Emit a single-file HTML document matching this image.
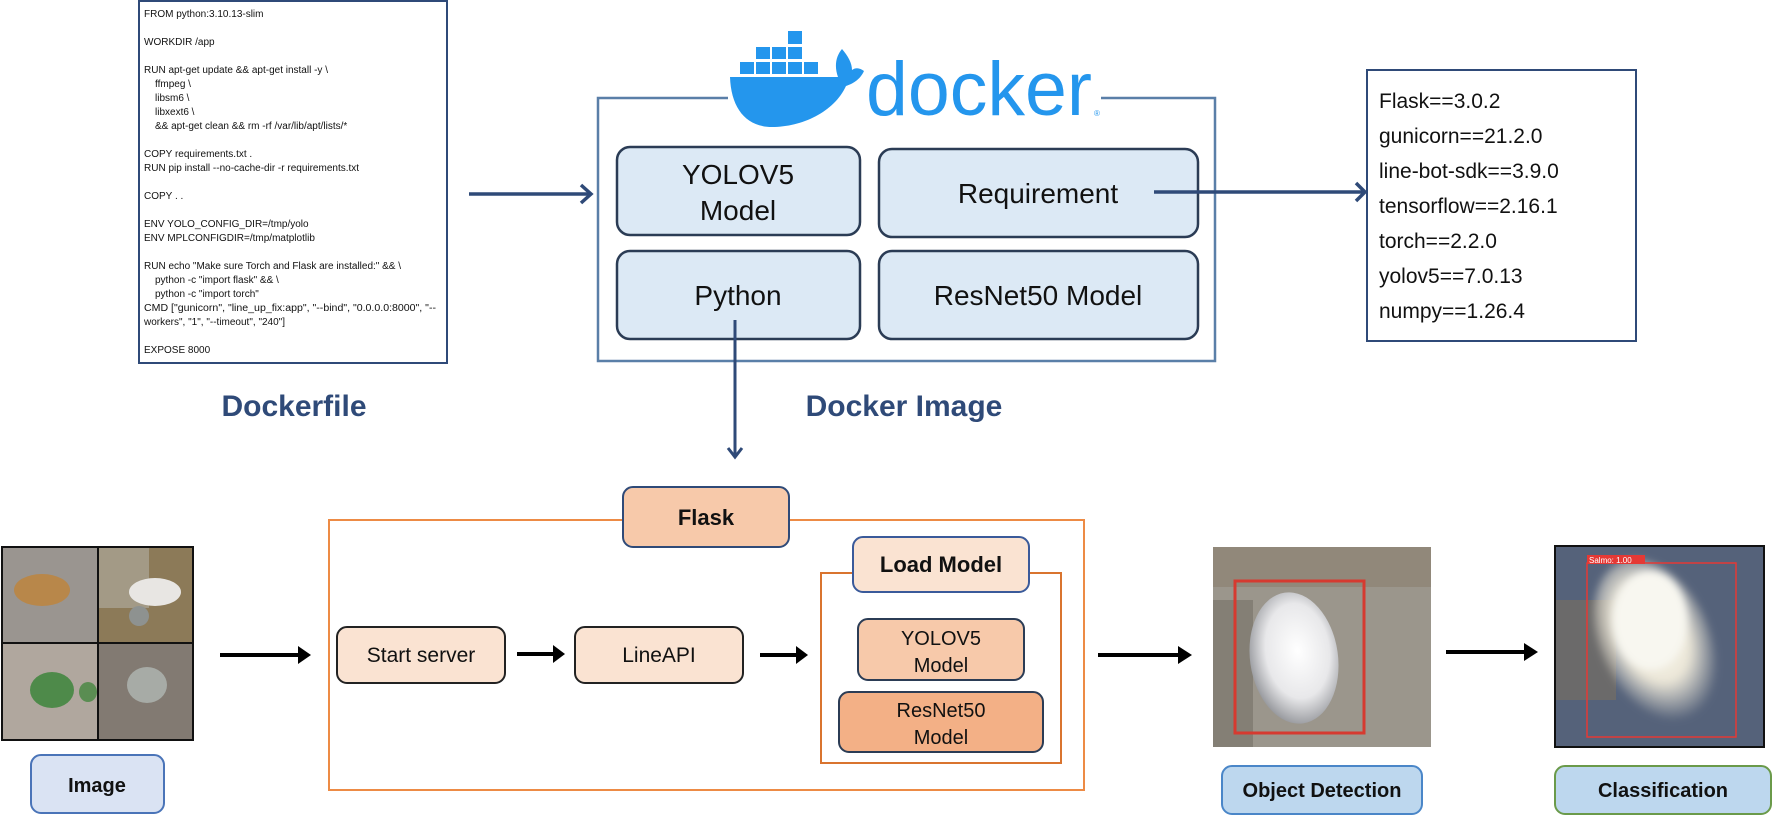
<!DOCTYPE html>
<html><head><meta charset="utf-8"><style>
html,body{margin:0;padding:0;background:#fff;width:1772px;height:817px;overflow:hidden}
svg{display:block}
text{font-family:"Liberation Sans",sans-serif}
</style></head><body>
<svg width="1772" height="817" viewBox="0 0 1772 817" xmlns="http://www.w3.org/2000/svg">
<defs>
<marker id="nav" viewBox="0 0 10 10" refX="8" refY="5" markerWidth="5" markerHeight="5" orient="auto" markerUnits="userSpaceOnUse">
</marker>
<radialGradient id="oval" cx="0.55" cy="0.45" r="0.6"><stop offset="0" stop-color="#ffffff"/><stop offset="0.6" stop-color="#e8e8ea"/><stop offset="1" stop-color="#8d8f94"/></radialGradient>
<radialGradient id="blob" cx="0.5" cy="0.45" r="0.55"><stop offset="0" stop-color="#fbfaf2"/><stop offset="0.55" stop-color="#ece7d8"/><stop offset="1" stop-color="#ece7d8" stop-opacity="0"/></radialGradient>
<filter id="bl"><feGaussianBlur stdDeviation="4"/></filter>
</defs>

<!-- Dockerfile box -->
<rect x="139" y="1" width="308" height="362" fill="#fff" stroke="#2f4a78" stroke-width="2"/>
<g font-size="10" fill="#111">
<text x="144" y="17">FROM python:3.10.13-slim</text>
<text x="144" y="45">WORKDIR /app</text>
<text x="144" y="73">RUN apt-get update &amp;&amp; apt-get install -y \</text>
<text x="155" y="87">ffmpeg \</text>
<text x="155" y="101">libsm6 \</text>
<text x="155" y="115">libxext6 \</text>
<text x="155" y="129">&amp;&amp; apt-get clean &amp;&amp; rm -rf /var/lib/apt/lists/*</text>
<text x="144" y="157">COPY requirements.txt .</text>
<text x="144" y="171">RUN pip install --no-cache-dir -r requirements.txt</text>
<text x="144" y="199">COPY . .</text>
<text x="144" y="227">ENV YOLO_CONFIG_DIR=/tmp/yolo</text>
<text x="144" y="241">ENV MPLCONFIGDIR=/tmp/matplotlib</text>
<text x="144" y="269">RUN echo "Make sure Torch and Flask are installed:" &amp;&amp; \</text>
<text x="155" y="283">python -c "import flask" &amp;&amp; \</text>
<text x="155" y="297">python -c "import torch"</text>
<text x="144" y="311" textLength="292" lengthAdjust="spacingAndGlyphs">CMD ["gunicorn", "line_up_fix:app", "--bind", "0.0.0.0:8000", "--</text>
<text x="144" y="325">workers", "1", "--timeout", "240"]</text>
<text x="144" y="353">EXPOSE 8000</text>
</g>
<text x="294" y="416" font-size="30" font-weight="bold" fill="#2f4a78" text-anchor="middle">Dockerfile</text>
<text x="904" y="416" font-size="30" font-weight="bold" fill="#2f4a78" text-anchor="middle">Docker Image</text>

<!-- arrow dockerfile -> docker -->
<line x1="469" y1="194" x2="590" y2="194" stroke="#2f4a78" stroke-width="3.5"/>
<polyline points="581,185 591,194 581,203" fill="none" stroke="#2f4a78" stroke-width="3.5"/>

<!-- Docker box -->
<polyline points="728,98 598,98 598,361 1215,361 1215,98 1101,98" fill="none" stroke="#5a7fa8" stroke-width="2.5"/>
<!-- whale -->
<g fill="#2496ed">
<rect x="740" y="62" width="14" height="12"/><rect x="756" y="62" width="14" height="12"/><rect x="772" y="62" width="14" height="12"/><rect x="788" y="62" width="14" height="12"/><rect x="804" y="62" width="14" height="12"/>
<rect x="756" y="47" width="14" height="12"/><rect x="772" y="47" width="14" height="12"/><rect x="788" y="47" width="14" height="12"/>
<rect x="788" y="31" width="14" height="13"/>
<path d="M730 77 L838 77 C834 66 836 56 842 49 C848 56 852 63 852 70 C856 67 860 68 864 71 C860 80 852 84 846 86 C834 112 802 127 772 127 C746 127 731 108 730 77 Z"/>
<text x="866" y="115" font-size="76" textLength="226" lengthAdjust="spacingAndGlyphs">docker</text>
<text x="1094" y="116" font-size="8">®</text>
</g>

<!-- inner boxes -->
<g stroke="#2b3c55" stroke-width="2.5" fill="#dce9f5">
<rect x="617" y="147" width="243" height="88" rx="13"/>
<rect x="879" y="149" width="319" height="88" rx="13"/>
<rect x="617" y="251" width="243" height="88" rx="13"/>
<rect x="879" y="251" width="319" height="88" rx="13"/>
</g>
<g font-size="28" fill="#111" text-anchor="middle">
<text x="738" y="184">YOLOV5</text>
<text x="738" y="220">Model</text>
<text x="1038" y="203">Requirement</text>
<text x="738" y="305">Python</text>
<text x="1038" y="305">ResNet50 Model</text>
</g>

<!-- requirement arrow -->
<line x1="1154" y1="192" x2="1364" y2="192" stroke="#2f4a78" stroke-width="3.5"/>
<polyline points="1356,183 1365,192 1356,201" fill="none" stroke="#2f4a78" stroke-width="3.5"/>
<rect x="1367" y="70" width="269" height="271" fill="#fff" stroke="#2f4a78" stroke-width="2"/>
<g font-size="21" fill="#111">
<text x="1379" y="108">Flask==3.0.2</text>
<text x="1379" y="143">gunicorn==21.2.0</text>
<text x="1379" y="178">line-bot-sdk==3.9.0</text>
<text x="1379" y="213">tensorflow==2.16.1</text>
<text x="1379" y="248">torch==2.2.0</text>
<text x="1379" y="283">yolov5==7.0.13</text>
<text x="1379" y="318">numpy==1.26.4</text>
</g>

<!-- python arrow -->
<line x1="735" y1="320" x2="735" y2="456" stroke="#2f4a78" stroke-width="3"/>
<polyline points="728,448 735,457 742,448" fill="none" stroke="#2f4a78" stroke-width="3"/>

<!-- Flask orange box -->
<rect x="329" y="520" width="755" height="270" fill="none" stroke="#ed8b45" stroke-width="2"/>
<rect x="623" y="487" width="166" height="60" rx="10" fill="#f7c9aa" stroke="#2f4a78" stroke-width="2"/>
<text x="706" y="525" font-size="22" font-weight="bold" text-anchor="middle" fill="#111">Flask</text>

<rect x="821" y="573" width="240" height="190" fill="none" stroke="#d9742f" stroke-width="2"/>
<rect x="853" y="537" width="176" height="55" rx="10" fill="#fae3d2" stroke="#3a5a9a" stroke-width="2"/>
<text x="941" y="572" font-size="22" font-weight="bold" text-anchor="middle" fill="#111">Load Model</text>
<rect x="858" y="619" width="166" height="61" rx="10" fill="#f7c9aa" stroke="#2b3c55" stroke-width="2"/>
<text x="941" y="645" font-size="20" text-anchor="middle" fill="#111">YOLOV5</text>
<text x="941" y="672" font-size="20" text-anchor="middle" fill="#111">Model</text>
<rect x="839" y="692" width="204" height="60" rx="10" fill="#f3b086" stroke="#2b3c55" stroke-width="2"/>
<text x="941" y="717" font-size="20" text-anchor="middle" fill="#111">ResNet50</text>
<text x="941" y="744" font-size="20" text-anchor="middle" fill="#111">Model</text>

<rect x="337" y="627" width="168" height="56" rx="10" fill="#fae3d2" stroke="#222" stroke-width="2"/>
<text x="421" y="662" font-size="21" text-anchor="middle" fill="#111">Start server</text>
<rect x="575" y="627" width="168" height="56" rx="10" fill="#fae3d2" stroke="#222" stroke-width="2"/>
<text x="659" y="662" font-size="21" text-anchor="middle" fill="#111">LineAPI</text>

<!-- black arrows -->
<g fill="#000">
<rect x="220" y="653" width="80" height="4"/><polygon points="298,646 311,655 298,664"/>
<rect x="517" y="652" width="38" height="4"/><polygon points="553,645 565,654 553,663"/>
<rect x="760" y="653" width="38" height="4"/><polygon points="796,646 808,655 796,664"/>
<rect x="1098" y="653" width="82" height="4"/><polygon points="1178,646 1192,655 1178,664"/>
<rect x="1446" y="650" width="80" height="4"/><polygon points="1524,643 1538,652 1524,661"/>
</g>

<!-- collage -->
<rect x="1" y="546" width="193" height="195" fill="#111"/>
<rect x="3" y="548" width="94" height="94" fill="#9a9590"/>
<ellipse cx="42" cy="590" rx="28" ry="16" fill="#b8874a"/>
<rect x="99" y="548" width="93" height="94" fill="#8c7a58"/>
<rect x="99" y="548" width="50" height="60" fill="#a39a86"/>
<ellipse cx="155" cy="592" rx="26" ry="14" fill="#e8e6e3"/>
<ellipse cx="139" cy="616" rx="10" ry="10" fill="#8e9290"/>
<rect x="3" y="644" width="94" height="95" fill="#b0a79e"/>
<ellipse cx="52" cy="690" rx="22" ry="18" fill="#4e8a4a"/>
<ellipse cx="88" cy="692" rx="9" ry="10" fill="#5a8d52"/>
<rect x="99" y="644" width="93" height="95" fill="#827a72"/>
<ellipse cx="147" cy="685" rx="20" ry="18" fill="#a7aba6"/>
<rect x="31" y="755" width="133" height="58" rx="10" fill="#dae3f3" stroke="#4a74b8" stroke-width="2"/>
<text x="97" y="792" font-size="20" font-weight="bold" text-anchor="middle" fill="#111">Image</text>

<!-- object detection image -->
<rect x="1213" y="547" width="218" height="200" fill="#9b968c"/>
<rect x="1213" y="547" width="218" height="40" fill="#8a7f6e" opacity="0.6"/>
<rect x="1213" y="600" width="40" height="147" fill="#6d675e" opacity="0.5"/>
<ellipse cx="1294" cy="658" rx="44" ry="66" fill="url(#oval)" transform="rotate(-8 1294 658)"/>
<rect x="1235" y="581" width="129" height="152" fill="none" stroke="#d63a30" stroke-width="3"/>
<rect x="1222" y="766" width="200" height="48" rx="10" fill="#bdd7ee" stroke="#4a86c8" stroke-width="2"/>
<text x="1322" y="797" font-size="20" font-weight="bold" text-anchor="middle" fill="#111">Object Detection</text>

<!-- classification image -->
<rect x="1554" y="545" width="211" height="203" fill="#111"/>
<rect x="1556" y="547" width="207" height="199" fill="#55627a"/>
<rect x="1556" y="600" width="60" height="100" fill="#7a705f" opacity="0.6"/>
<g filter="url(#bl)">
<ellipse cx="1655" cy="640" rx="55" ry="85" fill="url(#blob)" transform="rotate(-25 1655 640)"/>
<ellipse cx="1650" cy="620" rx="38" ry="50" fill="#f8f7f0"/>
</g>
<rect x="1587" y="563" width="149" height="174" fill="none" stroke="#e53935" stroke-width="1.5"/>
<rect x="1587" y="555" width="58" height="9" fill="#e53935"/>
<text x="1589" y="563" font-size="8" fill="#fff">Salmo: 1.00</text>
<rect x="1555" y="766" width="216" height="48" rx="10" fill="#bdd7ee" stroke="#6a9a4a" stroke-width="2"/>
<text x="1663" y="797" font-size="20" font-weight="bold" text-anchor="middle" fill="#111">Classification</text>
</svg>
</body></html>
